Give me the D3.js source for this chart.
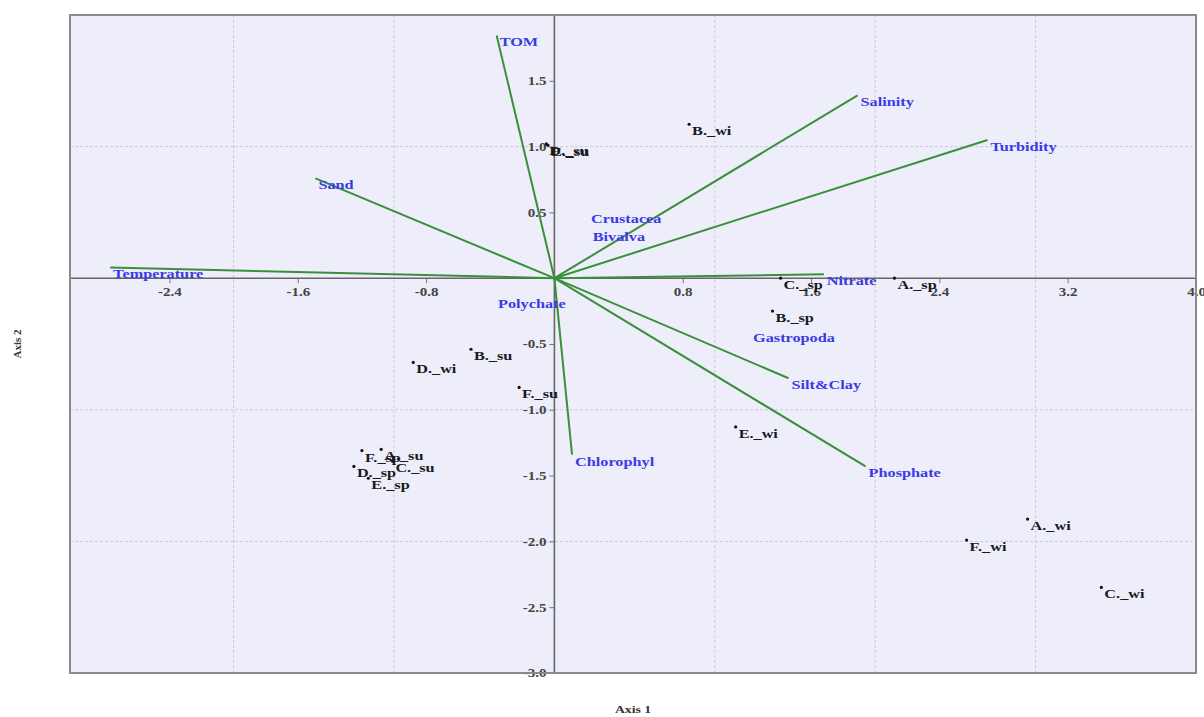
<!DOCTYPE html>
<html>
<head>
<meta charset="utf-8">
<script src="https://cdn.jsdelivr.net/npm/d3@7"></script>
<style>
  body { margin: 0; background: #fff; }
  text { font-family: "Liberation Serif", "DejaVu Serif", serif; font-weight: bold; }
</style>
</head>
<body>
<svg id="chart"></svg>
<script>
// environmental vectors (arrow tips)
const vectorNames = ['TOM', 'Sand', 'Temperature', 'Salinity', 'Turbidity', 'Nitrate', 'Silt&Clay', 'Phosphate', 'Chlorophyl'];
const vectorAxis1 = [-0.36, -1.49, -2.77, 1.89, 2.70, 1.68, 1.46, 1.94, 0.11];
const vectorAxis2 = [1.845, 0.758, 0.082, 1.39, 1.05, 0.03, -0.76, -1.43, -1.34];

// taxa (label only)
const speciesNames = ['Crustacea', 'Bivalva', 'Polychate', 'Gastropoda'];
const speciesAxis1 = [0.21, 0.22, -0.37, 1.22];
const speciesAxis2 = [0.50, 0.37, -0.145, -0.40];

// stations x season
const sampleNames = ['B._wi', 'D._su', 'E._su', 'C._sp', 'A._sp', 'B._sp', 'E._wi', 'D._wi', 'B._su', 'F._su',
  'F._sp', 'A._su', 'C._su', 'D._sp', 'E._sp', 'A._wi', 'F._wi', 'C._wi'];
const sampleAxis1 = [0.84, -0.05, -0.04, 1.41, 2.12, 1.36, 1.13, -0.88, -0.52, -0.22,
  -1.20, -1.08, -1.01, -1.25, -1.16, 2.95, 2.57, 3.41];
const sampleAxis2 = [1.17, 1.02, 1.01, 0.0, 0.0, -0.25, -1.13, -0.64, -0.54, -0.83,
  -1.31, -1.30, -1.39, -1.43, -1.52, -1.83, -1.99, -2.35];

const xTicks = [-2.4, -1.6, -0.8, 0.8, 1.6, 2.4, 3.2, 4.0];
const yTicks = [1.5, 1.0, 0.5, -0.5, -1.0, -1.5, -2.0, -2.5, -3.0];
const xGrid = [-2, -1, 1, 2, 3];
const yGrid = [1, -1, -2];

const W = 1204, H = 717;
const margin = { top: 15, right: 8, bottom: 44, left: 70 };
const width = W - margin.left - margin.right;
const height = H - margin.top - margin.bottom;
const SX = 1.25; // text is drawn a little wide, as in the picture

const svg = d3.select('#chart').attr('width', W).attr('height', H);
const g = svg.append('g').attr('transform', `translate(${margin.left},${margin.top})`);

const x = d3.scaleLinear().domain([-3.02, 4.0]).range([0, width]);
const y = d3.scaleLinear().domain([-3.0, 2.0]).range([height, 0]);

// plot background
g.append('rect')
  .attr('width', width).attr('height', height)
  .attr('fill', '#eeeefb');

// grid
g.append('g').selectAll('line').data(xGrid).join('line')
  .attr('x1', d => x(d)).attr('x2', d => x(d))
  .attr('y1', 0).attr('y2', height)
  .attr('stroke', '#c9c9dc').attr('stroke-dasharray', '3 2');
g.append('g').selectAll('line').data(yGrid).join('line')
  .attr('y1', d => y(d)).attr('y2', d => y(d))
  .attr('x1', 0).attr('x2', width)
  .attr('stroke', '#c9c9dc').attr('stroke-dasharray', '3 2');

// axes through the origin
const xAxis = g.append('g')
  .attr('transform', `translate(0,${y(0)})`)
  .call(d3.axisBottom(x).tickValues(xTicks).tickSize(5).tickPadding(4).tickFormat(d => d.toFixed(1)));
const yAxis = g.append('g')
  .attr('transform', `translate(${x(0)},0)`)
  .call(d3.axisLeft(y).tickValues(yTicks).tickSize(5).tickPadding(3).tickFormat(d => d.toFixed(1)));

[xAxis, yAxis].forEach(a => {
  a.select('.domain').remove();
  a.selectAll('.tick line').attr('stroke', '#777');
  a.selectAll('text').attr('fill', '#444').style('font-size', '12px');
});
xAxis.selectAll('text').attr('transform', `scale(${SX},1)`);
yAxis.selectAll('text').attr('x', -8 / SX).attr('transform', `scale(${SX},1)`);

g.append('line')
  .attr('x1', 0).attr('x2', width).attr('y1', y(0)).attr('y2', y(0))
  .attr('stroke', '#666').attr('stroke-width', 1.6);
g.append('line')
  .attr('x1', x(0)).attr('x2', x(0)).attr('y1', 0).attr('y2', height)
  .attr('stroke', '#666').attr('stroke-width', 1.6);

// label helper
function label(px, py, txt, color, size) {
  g.append('text')
    .attr('transform', `translate(${px},${py}) scale(${SX},1)`)
    .attr('x', 3 / SX).attr('y', 11)
    .attr('fill', color)
    .style('font-size', size + 'px')
    .text(txt);
}

// vectors
vectorNames.forEach((name, i) => {
  g.append('line')
    .attr('x1', x(0)).attr('y1', y(0))
    .attr('x2', x(vectorAxis1[i])).attr('y2', y(vectorAxis2[i]))
    .attr('stroke', '#3a8f3a').attr('stroke-width', 2);
});
vectorNames.forEach((name, i) => {
  label(x(vectorAxis1[i]), y(vectorAxis2[i]), name, '#3a3ae6', 13);
});

// taxa
speciesNames.forEach((name, i) => {
  label(x(speciesAxis1[i]), y(speciesAxis2[i]), name, '#3a3ae6', 13);
});

// samples
sampleNames.forEach((name, i) => {
  g.append('circle')
    .attr('cx', x(sampleAxis1[i])).attr('cy', y(sampleAxis2[i]))
    .attr('r', 1.6).attr('fill', '#111');
  label(x(sampleAxis1[i]), y(sampleAxis2[i]), name, '#1a1a1a', 13);
});

// frame
g.append('rect')
  .attr('width', width).attr('height', height)
  .attr('fill', 'none').attr('stroke', '#8a8a8a').attr('stroke-width', 2);

// axis titles
svg.append('text')
  .attr('transform', `translate(${margin.left + width / 2},${H - 4}) scale(${SX},1)`)
  .attr('text-anchor', 'middle')
  .attr('fill', '#333')
  .style('font-size', '11px')
  .text('Axis 1');
svg.append('text')
  .attr('transform', `translate(21,${margin.top + height / 2}) rotate(-90)`)
  .attr('text-anchor', 'middle')
  .attr('fill', '#333')
  .style('font-size', '11px')
  .text('Axis 2');
</script>
</body>
</html>
